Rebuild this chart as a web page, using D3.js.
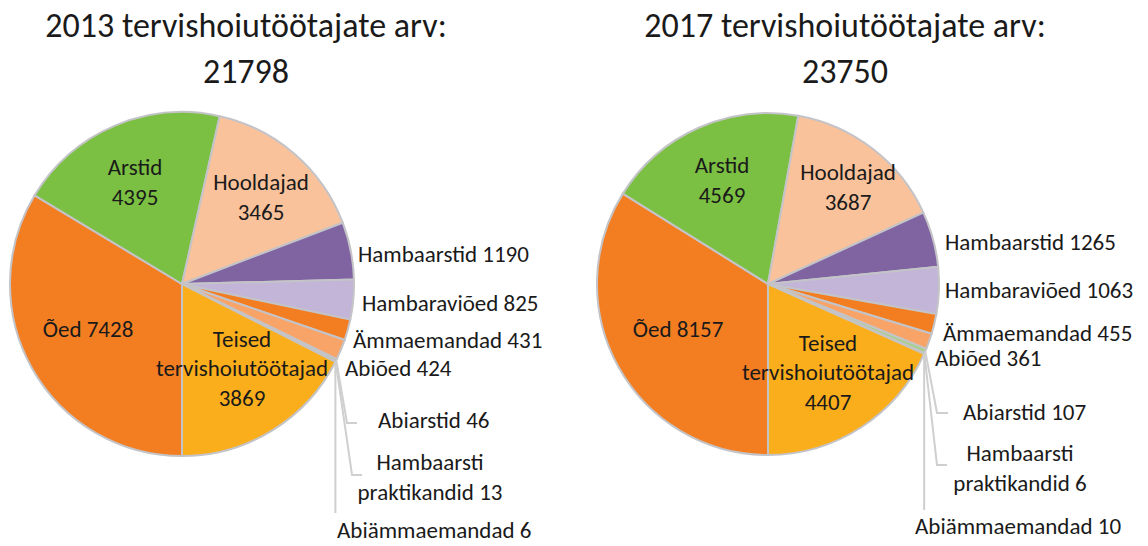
<!DOCTYPE html>
<html>
<head>
<meta charset="utf-8">
<script src="https://cdn.jsdelivr.net/npm/d3@7"></script>
<style>
  body { margin: 0; background: #fff; }
  svg { display: block; font-family: Carlito, Calibri, Lato, sans-serif; }
  .slice { stroke: #c4c4c8; stroke-width: 2; }
  .leader { fill: none; stroke: #cfcfcf; stroke-width: 2; }
  text { fill: #1a1a1a; }
</style>
</head>
<body>
<svg id="chart" width="1148" height="546"></svg>
<script>
// data, in the order the slices are drawn (clockwise, starting at 6 o'clock)
const categories = ['Õed', 'Arstid', 'Hooldajad', 'Hambaarstid', 'Hambaraviõed', 'Ämmaemandad',
  'Abiõed', 'Abiarstid', 'Hambaarsti praktikandid', 'Abiämmaemandad', 'Teised tervishoiutöötajad']
const values2013 = [7428, 4395, 3465, 1190, 825, 431, 424, 46, 13, 6, 3869]
const values2017 = [8157, 4569, 3687, 1265, 1063, 455, 361, 107, 6, 10, 4407]
const years = ['2013', '2017']
const totals = [21798, 23750]
const colors = ['#f37e22', '#7cc043', '#f9c29b', '#8064a2', '#c2b5d8', '#f37e22',
  '#f8a468', '#a8cf8c', '#bdbdbd', '#c9c9c9', '#fbae1b']

// label text for each slice; inside labels are split into lines
const labelLines = {
  'Õed': v => ['Õed ' + v],
  'Arstid': v => ['Arstid', v],
  'Hooldajad': v => ['Hooldajad', v],
  'Teised tervishoiutöötajad': v => ['Teised', 'tervishoiutöötajad', v],
  'Hambaarsti praktikandid': v => ['Hambaarsti', 'praktikandid ' + v],
  'Abiämmaemandad': v => ['Abiämmaemandad  ' + v]
}
const textFor = (name, v) => labelLines[name] ? labelLines[name](v) : [name + ' ' + v]

// layout of each panel; label spots are relative to the pie centre
const panels = [
  {
    cx: 182, cy: 284, r: 172, titleX: 246,
    labels: {
      'Arstid': { x: -47, y: -102, anchor: 'middle' },
      'Hooldajad': { x: 79, y: -87, anchor: 'middle' },
      'Õed': { x: -94, y: 45, anchor: 'middle' },
      'Teised tervishoiutöötajad': { x: 60, y: 84, anchor: 'middle' },
      'Hambaarstid': { x: 176, y: -30, anchor: 'start' },
      'Hambaraviõed': { x: 180, y: 19, anchor: 'start' },
      'Ämmaemandad': { x: 171, y: 56, anchor: 'start' },
      'Abiõed': { x: 163, y: 84, anchor: 'start' },
      'Abiarstid': { x: 196, y: 136, anchor: 'start', elbow: [165, 139, 175] },
      'Hambaarsti praktikandid': { x: 248, y: 193, anchor: 'middle', elbow: [170, 191, 180] },
      'Abiämmaemandad': { x: 155, y: 246, anchor: 'start', drop: 229 }
    }
  },
  {
    cx: 768, cy: 284, r: 171, titleX: 845,
    labels: {
      'Arstid': { x: -46, y: -104, anchor: 'middle' },
      'Hooldajad': { x: 80, y: -97, anchor: 'middle' },
      'Õed': { x: -90, y: 45, anchor: 'middle' },
      'Teised tervishoiutöötajad': { x: 60, y: 88, anchor: 'middle' },
      'Hambaarstid': { x: 177, y: -42, anchor: 'start' },
      'Hambaraviõed': { x: 177, y: 6, anchor: 'start' },
      'Ämmaemandad': { x: 175, y: 49, anchor: 'start' },
      'Abiõed': { x: 167, y: 74, anchor: 'start' },
      'Abiarstid': { x: 195, y: 128, anchor: 'start', elbow: [169, 129, 180] },
      'Hambaarsti praktikandid': { x: 252, y: 184, anchor: 'middle', elbow: [169, 181, 179] },
      'Abiämmaemandad': { x: 147, y: 242, anchor: 'start', drop: 226 }
    }
  }
]

const svg = d3.select('#chart')
const color = d3.scaleOrdinal().domain(categories).range(colors)
const pie = d3.pie().sort(null).value(d => d.value)
  .startAngle(Math.PI).endAngle(3 * Math.PI)
const lineH = 29.5

function drawPanel (panel, values, year, total) {
  const data = categories.map((name, i) => ({ name, value: values[i] }))
  const arcs = pie(data)
  const arc = d3.arc().innerRadius(0).outerRadius(panel.r)
  const edge = d3.arc().innerRadius(panel.r).outerRadius(panel.r)

  const title = svg.append('g').attr('text-anchor', 'middle').style('font-size', '34px')
  title.append('text').attr('x', panel.titleX).attr('y', 37).text(year + ' tervishoiutöötajate arv:')
  title.append('text').attr('x', panel.titleX).attr('y', 83).text(total)

  const g = svg.append('g').attr('transform', `translate(${panel.cx},${panel.cy})`)
  g.selectAll('path.slice')
    .data(arcs)
    .join('path')
    .classed('slice', true)
    .attr('fill', d => color(d.data.name))
    .attr('d', arc)

  // leader lines for the small slices
  arcs.forEach(d => {
    const spot = panel.labels[d.data.name]
    if (!spot || (!spot.elbow && !spot.drop)) return
    const [x0, y0] = edge.centroid(d)
    const pts = spot.elbow
      ? [[x0, y0], [spot.elbow[0], spot.elbow[1]], [spot.elbow[2], spot.elbow[1]]]
      : [[x0, y0], [x0, spot.drop]]
    g.append('path').classed('leader', true).attr('d', d3.line()(pts))
  })

  arcs.forEach(d => {
    const spot = panel.labels[d.data.name]
    const lines = textFor(d.data.name, d.data.value)
    const t = g.append('text')
      .attr('text-anchor', spot.anchor)
      .style('font-size', '23px')
    lines.forEach((s, i) => {
      t.append('tspan')
        .attr('x', spot.x)
        .attr('y', spot.y + (i - (lines.length - 1) / 2) * lineH)
        .attr('dy', '0.35em')
        .text(s)
    })
  })
}

panels.forEach((p, i) => drawPanel(p, i ? values2017 : values2013, years[i], totals[i]))
</script>
</body>
</html>
